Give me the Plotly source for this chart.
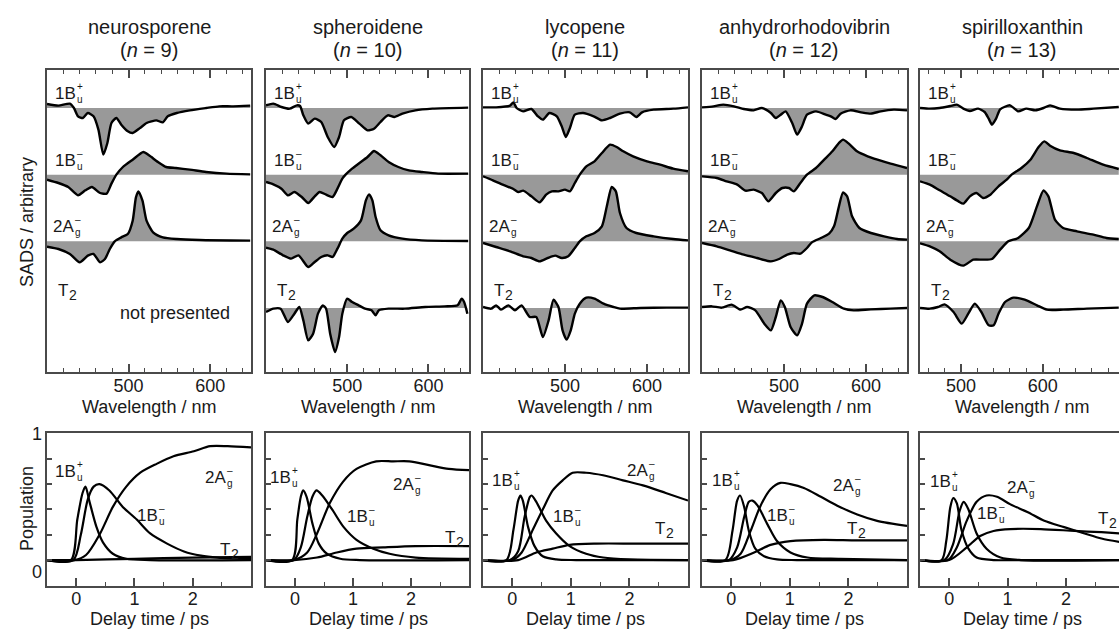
import plotly.graph_objects as go

W, H = 1119, 629
FONT = "Liberation Sans, Arial, sans-serif"
FRAME = "#4a4a4a"
FILL = "#999999"
TXT = "#1a1a1a"

# ---------------- data ----------------
MOLECULES = ["neurosporene", "spheroidene", "lycopene", "anhydrorhodovibrin", "spirilloxanthin"]
N_VALUES = [9, 10, 11, 12, 13]

# SADS (wavelength / nm, amplitude in arbitrary units)
neu_1Bp_wl = [400,414,428,433,438,444,450,457,463,469,474,479,485,491,499,505,514,522,528,534,542,548,559,575,595,611,628,649]
neu_1Bp = [0.06,0.035,0.065,0,-0.125,-0.15,-0.075,-0.125,-0.325,-0.7,-0.525,-0.225,-0.15,-0.25,-0.35,-0.375,-0.3,-0.225,-0.2,-0.185,-0.215,-0.125,-0.075,-0.035,0,0.025,0.025,0.035]
neu_1Bm_wl = [400,414,426,438,447,455,465,473,479,485,493,505,518,525,536,546,558,575,595,620,649]
neu_1Bm = [-0.075,-0.125,-0.185,-0.31,-0.235,-0.185,-0.275,-0.285,-0.135,0,0.115,0.225,0.34,0.29,0.19,0.115,0.1,0.075,0.04,0.015,0.005]
neu_2Ag_wl = [400,414,428,440,450,457,465,471,477,483,491,499,505,509,512,517,522,530,542,559,587,649]
neu_2Ag = [-0.08,-0.115,-0.19,-0.315,-0.215,-0.19,-0.315,-0.265,-0.115,0,0.06,0.11,0.31,0.66,0.75,0.61,0.31,0.135,0.06,0.035,0.02,0.01]

sph_1Bp_wl = [400,409,419,429,438,442,446,452,460,468,476,484,490,496,505,515,525,533,541,550,558,568,584,605,649]
sph_1Bp = [0.04,0.065,0.015,-0.01,0.04,0.03,-0.11,-0.235,-0.16,-0.21,-0.435,-0.585,-0.435,-0.185,-0.135,-0.235,-0.335,-0.31,-0.21,-0.11,-0.135,-0.085,-0.035,-0.01,0.005]
sph_1Bm_wl = [400,409,419,427,435,444,452,460,466,474,482,488,494,498,506,514,525,533,541,551,563,576,592,612,649]
sph_1Bm = [-0.11,-0.145,-0.21,-0.31,-0.26,-0.335,-0.425,-0.325,-0.26,-0.3,-0.335,-0.21,-0.06,0,0.09,0.165,0.265,0.355,0.29,0.19,0.115,0.065,0.04,0.015,0.015]
sph_2Ag_wl = [400,409,421,431,440,452,460,468,476,482,488,494,500,508,517,523,527,531,535,541,551,568,592,649]
sph_2Ag = [-0.095,-0.125,-0.21,-0.26,-0.21,-0.385,-0.31,-0.235,-0.21,-0.235,-0.11,0.04,0.125,0.19,0.315,0.615,0.705,0.615,0.365,0.165,0.09,0.04,0.015,0.005]
sph_T2_wl = [400,409,418,427,435,441,446,452,458,464,470,474,479,485,490,494,500,506,514,522,530,535,539,551,571,596,620,636,641,644,648]
sph_T2 = [-0.06,-0.01,-0.01,-0.21,-0.085,0.015,-0.185,-0.485,-0.385,-0.085,0.04,-0.01,-0.385,-0.66,-0.435,-0.085,0.14,0.09,0.04,-0.01,-0.035,-0.11,-0.035,-0.01,-0.01,0.015,0.025,0.04,0.14,0.09,-0.085]

lyc_1Bp_wl = [400,416,433,437,441,449,459,467,473,481,490,496,501,506,512,522,535,545,555,567,579,587,594,608,632,650]
lyc_1Bp = [0.01,0.01,0.035,0.085,0,-0.05,-0.015,-0.125,-0.175,-0.075,-0.125,-0.275,-0.435,-0.3,-0.1,-0.075,-0.125,-0.185,-0.15,-0.085,-0.065,-0.135,-0.065,-0.025,-0.01,0.01]
lyc_1Bm_wl = [400,412,424,437,443,449,459,469,477,484,492,500,506,512,518,526,536,545,555,563,571,583,600,616,632,650]
lyc_1Bm = [-0.025,-0.085,-0.15,-0.215,-0.26,-0.24,-0.325,-0.415,-0.3,-0.25,-0.25,-0.225,-0.25,-0.125,0,0.125,0.2,0.325,0.45,0.415,0.35,0.275,0.2,0.15,0.09,0.05]
lyc_2Ag_wl = [400,416,433,449,459,469,479,488,496,504,512,518,526,536,545,551,557,562,567,575,587,608,632,650]
lyc_2Ag = [-0.025,-0.085,-0.15,-0.225,-0.25,-0.3,-0.25,-0.215,-0.25,-0.225,-0.1,0,0.075,0.125,0.225,0.525,0.815,0.75,0.425,0.2,0.125,0.075,0.035,0.015]
lyc_T2_wl = [400,410,416,422,431,439,447,457,465,473,480,486,492,497,502,507,512,518,526,536,547,559,567,592,624,650]
lyc_T2 = [0.015,-0.01,0.04,-0.025,0.04,-0.035,0.04,-0.135,-0.135,-0.435,-0.185,0.125,0.015,-0.335,-0.475,-0.335,-0.085,0.065,0.155,0.14,0.065,0.015,-0.01,0,0.005,0.005]

anh_1Bp_wl = [400,414,426,439,451,463,473,484,490,496,502,510,516,522,528,539,551,557,563,569,581,594,606,618,634,650]
anh_1Bp = [0.01,0.025,0.05,0.025,-0.015,-0.035,0,-0.075,-0.15,-0.1,-0.05,-0.225,-0.4,-0.275,-0.1,-0.05,-0.1,-0.125,-0.165,-0.085,-0.035,-0.065,-0.085,-0.05,-0.025,-0.035]
anh_1Bm_wl = [400,418,430,443,453,463,473,481,490,498,506,512,520,528,539,549,559,567,572,579,589,602,614,630,650]
anh_1Bm = [-0.025,-0.05,-0.1,-0.15,-0.24,-0.225,-0.275,-0.4,-0.275,-0.2,-0.2,-0.25,-0.125,0,0.1,0.225,0.35,0.475,0.525,0.465,0.35,0.275,0.225,0.165,0.1]
anh_2Ag_wl = [400,418,434,451,467,484,494,504,512,520,528,534,545,555,561,567,572,577,583,592,606,622,638,650]
anh_2Ag = [-0.025,-0.075,-0.135,-0.2,-0.25,-0.3,-0.265,-0.2,-0.175,-0.185,-0.1,-0.015,0.05,0.115,0.225,0.525,0.735,0.675,0.375,0.2,0.125,0.075,0.035,0.025]
anh_T2_wl = [400,412,424,436,447,455,465,476,484,490,496,501,508,516,522,528,537,547,559,573,585,606,630,650]
anh_T2 = [0.015,0.025,0.005,0.05,-0.025,0.015,-0.035,-0.235,-0.335,-0.135,0.115,0.015,-0.285,-0.41,-0.235,0.065,0.19,0.165,0.09,-0.01,-0.035,-0.02,-0.01,0]

spi_1Bp_wl = [450,462,474,487,495,503,511,521,529,534,538,543,548,560,570,580,591,601,609,621,642,662,693]
spi_1Bp = [0,-0.01,0,0.03,0.05,-0.01,-0.045,-0.01,-0.06,-0.16,-0.25,-0.16,-0.02,0.04,-0.05,-0.01,-0.035,0,0.04,-0.01,-0.025,-0.01,0.015]
spi_1Bm_wl = [450,462,474,487,497,503,511,519,527,536,546,556,562,574,585,595,602,609,621,638,654,674,693]
spi_1Bm = [-0.1,-0.15,-0.235,-0.325,-0.4,-0.435,-0.325,-0.275,-0.35,-0.3,-0.175,-0.075,0,0.1,0.225,0.415,0.5,0.435,0.365,0.325,0.25,0.15,0.085]
spi_2Ag_wl = [450,462,474,487,503,515,527,538,548,558,570,583,593,601,607,615,625,642,662,678,693]
spi_2Ag = [-0.03,-0.075,-0.15,-0.275,-0.365,-0.275,-0.275,-0.265,-0.125,0,0.05,0.2,0.525,0.765,0.675,0.325,0.2,0.15,0.1,0.05,0.035]
spi_T2_wl = [450,462,472,480,491,501,509,517,525,534,540,546,554,564,578,593,605,625,654,693]
spi_T2 = [0,-0.01,0.015,0.055,-0.06,-0.235,-0.085,0.065,-0.06,-0.26,-0.26,-0.085,0.09,0.155,0.125,0.04,-0.025,-0.025,-0.01,0.005]

# Populations (delay time / ps, population)
neu_t_1Bp = [-0.5,-0.09,0.02,0.11,0.16,0.23,0.35,0.46,0.63,0.86,1.27,3.0]
neu_p_1Bp = [0,0,0.32,0.53,0.58,0.46,0.26,0.14,0.05,0.01,0,0]
neu_t_1Bm = [-0.5,-0.05,0.08,0.2,0.3,0.4,0.57,0.8,1.04,1.27,1.56,1.85,2.14,2.43,3.0]
neu_p_1Bm = [0,0,0.2,0.48,0.58,0.6,0.55,0.42,0.32,0.21,0.13,0.068,0.035,0.02,0.01]
neu_t_2Ag = [-0.5,-0.03,0.17,0.4,0.63,0.86,1.1,1.38,1.67,2.02,2.3,2.6,3.0]
neu_p_2Ag = [0,0,0.04,0.2,0.42,0.58,0.69,0.76,0.82,0.86,0.9,0.9,0.89]
neu_t_T2 = [-0.5,0,1.0,2.0,3.0]
neu_p_T2 = [0,0,0.01,0.02,0.025]

sph_t_1Bp = [-0.5,-0.05,0.04,0.1,0.14,0.2,0.3,0.41,0.55,0.78,1.12,3.0]
sph_p_1Bp = [0,0,0.32,0.5,0.55,0.5,0.29,0.13,0.05,0.01,0,0]
sph_t_1Bm = [-0.5,-0.02,0.1,0.21,0.3,0.37,0.47,0.64,0.84,1.06,1.35,1.63,2.08,3.0]
sph_p_1Bm = [0,0,0.1,0.34,0.5,0.55,0.51,0.4,0.26,0.16,0.09,0.05,0.02,0.01]
sph_t_2Ag = [-0.5,-0.02,0.21,0.38,0.6,0.83,1.06,1.4,1.69,1.97,2.31,2.65,3.0]
sph_p_2Ag = [0,0,0.06,0.21,0.45,0.62,0.72,0.78,0.78,0.78,0.75,0.72,0.71]
sph_t_T2 = [-0.5,-0.02,0.38,0.72,1.06,1.52,2.08,3.0]
sph_p_T2 = [0,0,0.02,0.06,0.09,0.1,0.11,0.11]

lyc_t_1Bp = [-0.5,-0.1,0.02,0.1,0.14,0.18,0.27,0.38,0.52,0.75,1.09,3.0]
lyc_p_1Bp = [0,0,0.24,0.47,0.51,0.47,0.26,0.11,0.03,0.005,0,0]
lyc_t_1Bm = [-0.5,-0.04,0.1,0.21,0.3,0.33,0.41,0.58,0.75,0.98,1.26,1.55,2.0,3.0]
lyc_p_1Bm = [0,0,0.07,0.34,0.5,0.51,0.46,0.31,0.21,0.11,0.05,0.02,0.005,0]
lyc_t_2Ag = [-0.5,0.0,0.16,0.35,0.52,0.69,0.86,1.03,1.26,1.55,1.89,2.23,2.62,3.0]
lyc_p_2Ag = [0,0,0.06,0.24,0.4,0.55,0.63,0.69,0.69,0.67,0.63,0.59,0.53,0.47]
lyc_t_T2 = [-0.5,0.1,0.41,0.69,0.98,1.43,2.11,3.0]
lyc_p_T2 = [0,0,0.06,0.09,0.12,0.13,0.13,0.13]

anh_t_1Bp = [-0.5,-0.1,0.02,0.1,0.15,0.22,0.3,0.41,0.56,0.78,1.12,3.0]
anh_p_1Bp = [0,0,0.23,0.47,0.51,0.42,0.23,0.09,0.03,0.005,0,0]
anh_t_1Bm = [-0.5,-0.04,0.1,0.22,0.3,0.36,0.45,0.62,0.78,1.01,1.3,1.86,3.0]
anh_p_1Bm = [0,0,0.1,0.34,0.46,0.47,0.43,0.28,0.15,0.06,0.02,0.01,0]
anh_t_2Ag = [-0.5,-0.02,0.16,0.33,0.5,0.67,0.84,1.01,1.24,1.53,1.81,2.15,2.49,3.0]
anh_p_2Ag = [0,0,0.05,0.23,0.43,0.56,0.61,0.6,0.57,0.5,0.43,0.36,0.31,0.27]
anh_t_T2 = [-0.5,0.03,0.39,0.67,1.01,1.58,2.15,3.0]
anh_p_T2 = [0,0,0.06,0.12,0.15,0.16,0.155,0.155]

spi_t_1Bp = [-0.5,-0.13,-0.05,0.02,0.07,0.13,0.21,0.33,0.47,0.76,1.16,2.95]
spi_p_1Bp = [0,0,0.15,0.42,0.49,0.45,0.24,0.09,0.02,0,0,0]
spi_t_1Bm = [-0.5,-0.08,0.07,0.18,0.25,0.33,0.47,0.64,0.88,1.23,2.95]
spi_p_1Bm = [0,0,0.13,0.39,0.46,0.4,0.21,0.09,0.02,0,0]
spi_t_2Ag = [-0.5,-0.02,0.13,0.3,0.47,0.64,0.82,1.05,1.34,1.63,1.97,2.32,2.61,2.95]
spi_p_2Ag = [0,0,0.1,0.31,0.46,0.51,0.5,0.44,0.38,0.31,0.26,0.21,0.17,0.14]
spi_t_T2 = [-0.5,0.0,0.3,0.53,0.76,1.05,1.57,2.15,2.61,2.95]
spi_p_T2 = [0,0,0.1,0.19,0.23,0.245,0.245,0.23,0.22,0.21]

STATES = ["1B+", "1B-", "2A-", "T2"]
SADS = [
    [(neu_1Bp_wl, neu_1Bp), (neu_1Bm_wl, neu_1Bm), (neu_2Ag_wl, neu_2Ag), None],
    [(sph_1Bp_wl, sph_1Bp), (sph_1Bm_wl, sph_1Bm), (sph_2Ag_wl, sph_2Ag), (sph_T2_wl, sph_T2)],
    [(lyc_1Bp_wl, lyc_1Bp), (lyc_1Bm_wl, lyc_1Bm), (lyc_2Ag_wl, lyc_2Ag), (lyc_T2_wl, lyc_T2)],
    [(anh_1Bp_wl, anh_1Bp), (anh_1Bm_wl, anh_1Bm), (anh_2Ag_wl, anh_2Ag), (anh_T2_wl, anh_T2)],
    [(spi_1Bp_wl, spi_1Bp), (spi_1Bm_wl, spi_1Bm), (spi_2Ag_wl, spi_2Ag), (spi_T2_wl, spi_T2)],
]
POPS = [
    [(neu_t_1Bp, neu_p_1Bp), (neu_t_1Bm, neu_p_1Bm), (neu_t_2Ag, neu_p_2Ag), (neu_t_T2, neu_p_T2)],
    [(sph_t_1Bp, sph_p_1Bp), (sph_t_1Bm, sph_p_1Bm), (sph_t_2Ag, sph_p_2Ag), (sph_t_T2, sph_p_T2)],
    [(lyc_t_1Bp, lyc_p_1Bp), (lyc_t_1Bm, lyc_p_1Bm), (lyc_t_2Ag, lyc_p_2Ag), (lyc_t_T2, lyc_p_T2)],
    [(anh_t_1Bp, anh_p_1Bp), (anh_t_1Bm, anh_p_1Bm), (anh_t_2Ag, anh_p_2Ag), (anh_t_T2, anh_p_T2)],
    [(spi_t_1Bp, spi_p_1Bp), (spi_t_1Bm, spi_p_1Bm), (spi_t_2Ag, spi_p_2Ag), (spi_t_T2, spi_p_T2)],
]

WL_TICKS = [500, 600]
T_TICKS = [0, 1, 2]
T_TICKTEXT = ["0", "1", "2"]

# ---------------- layout geometry (pixels) ----------------
COL_L = [47, 266, 483, 702, 920]
COL_R = [251, 469, 688, 907, 1119]
PANEL_W = 204
TOP_PX = (70, 372)
BOT_PX = (433, 586)
WL_RANGE = [(400, 650), (400, 650), (400, 650), (400, 650), (450, 693.3)]
T_RANGE = [(-0.5, 3.0)] * 4 + [(-0.5, 2.91)]
OFFSETS = [3, 2, 1, 0]
SADS_YRANGE = [-0.96, 3.57]
POP_YRANGE = [-0.205, 1.004]

# population label pixel positions per column: (state, x_left_px, y_center_px)
POP_LABELS = [
    [("1B+", 54, 471), ("2A-", 204, 477), ("1B-", 136, 515), ("T2", 219, 549)],
    [("1B+", 269, 477), ("2A-", 392, 484), ("1B-", 346, 516), ("T2", 444, 537)],
    [("1B+", 491, 480), ("2A-", 626, 470), ("1B-", 552, 516), ("T2", 654, 528)],
    [("1B+", 711, 480), ("2A-", 832, 485), ("1B-", 766, 515), ("T2", 846, 528)],
    [("1B+", 929, 482), ("2A-", 1006, 487), ("1B-", 976, 513), ("T2", 1097, 518)],
]

LABEL_SIZE = 17


def px(x):
    return x / W


def py(y):
    return 1 - y / H


fig = go.Figure()
annotations = []


def state_label(kind, x, y, xref, yref, size=LABEL_SIZE, xshift=0):
    main = {"1B+": "1B", "1B-": "1B", "2A-": "2A", "T2": "T"}[kind]
    base = dict(x=x, y=y, xref=xref, yref=yref, xanchor="left", yanchor="middle",
                showarrow=False, borderpad=0)
    annotations.append(dict(base, text=main, xshift=xshift,
                            font=dict(family=FONT, size=size, color=TXT)))
    if kind == "T2":
        w = 0.611 * size
        annotations.append(dict(base, text="2", xshift=xshift + w + 1, yshift=-0.32 * size,
                                font=dict(family=FONT, size=round(size * 0.8), color=TXT)))
    else:
        w = 1.223 * size
        sup = "+" if kind == "1B+" else "\u2013"
        sub = "u" if kind.startswith("1B") else "g"
        # superscript and subscript stacked in one text block
        annotations.append(dict(base, text=f"{sup}<br>{sub}", align="left",
                                xshift=xshift + w + 1.5, yshift=0.5,
                                font=dict(family=FONT, size=10, color=TXT)))


layout_axes = {}
for i in range(5):
    top = i + 1
    bot = i + 6
    xd = [px(COL_L[i]), min(1.0, px(COL_R[i]))]
    tx, ty = f"x{top}", f"y{top}"
    bx, by = f"x{bot}", f"y{bot}"
    last = i == 4

    # ---- SADS ----
    for j, st in enumerate(STATES):
        spec = SADS[i][j]
        if spec is None:
            continue
        wl, vals = spec
        off = OFFSETS[j]
        fig.add_trace(go.Scatter(x=wl, y=[off] * len(wl), xaxis=tx, yaxis=ty, mode="lines",
                                 line=dict(width=0, color=FILL), hoverinfo="skip", showlegend=False))
        fig.add_trace(go.Scatter(x=wl, y=[v + off for v in vals], xaxis=tx, yaxis=ty, mode="lines",
                                 fill="tonexty", fillcolor=FILL,
                                 line=dict(color="black", width=2.4, shape="spline", smoothing=0.6),
                                 hoverinfo="skip", showlegend=False))
    # ---- populations ----
    for j, st in enumerate(STATES):
        t, p = POPS[i][j]
        fig.add_trace(go.Scatter(x=t, y=p, xaxis=bx, yaxis=by, mode="lines",
                                 line=dict(color="black", width=2.2, shape="spline", smoothing=0.8),
                                 hoverinfo="skip", showlegend=False))

    minor_wl = [w for w in range(400, 720, 20) if w not in WL_TICKS]
    common = dict(showgrid=False, zeroline=False, showline=True, linecolor=FRAME, linewidth=1.5,
                  tickcolor=FRAME, tickwidth=1.5,
                  tickfont=dict(family=FONT, size=18, color=TXT))
    layout_axes[f"xaxis{top}"] = dict(common, domain=xd, anchor=ty, range=list(WL_RANGE[i]),
                                      tickmode="array", tickvals=WL_TICKS, ticks="inside", ticklen=8,
                                      mirror="ticks", ticklabelstandoff=-3,
                                      minor=dict(tickmode="array", tickvals=minor_wl, ticks="inside",
                                                 ticklen=4, tickcolor=FRAME, tickwidth=1.2))
    layout_axes[f"yaxis{top}"] = dict(common, domain=[py(TOP_PX[1]), py(TOP_PX[0])], anchor=tx,
                                      range=SADS_YRANGE, showticklabels=False, ticks="",
                                      mirror=(not last))
    layout_axes[f"xaxis{bot}"] = dict(common, domain=xd, anchor=by, range=list(T_RANGE[i]),
                                      tickmode="array", tickvals=T_TICKS, ticktext=T_TICKTEXT,
                                      ticks="inside", ticklen=8, mirror=True, ticklabelstandoff=-4,
                                      minor=dict(tickmode="array", tickvals=[0.5, 1.5, 2.5],
                                                 ticks="inside", ticklen=4, tickcolor=FRAME, tickwidth=1.2))
    layout_axes[f"yaxis{bot}"] = dict(common, domain=[py(BOT_PX[1]), py(BOT_PX[0])], anchor=bx,
                                      range=POP_YRANGE, tickmode="array",
                                      tickvals=[0, 0.2, 0.4, 0.6, 0.8], ticks="inside", ticklen=5,
                                      showticklabels=False, mirror=(not last))

    # titles
    cx = px(COL_L[i] + PANEL_W / 2)
    annotations.append(dict(x=cx, y=py(27), xref="paper", yref="paper", text=MOLECULES[i],
                            showarrow=False, xanchor="center", yanchor="middle",
                            font=dict(family=FONT, size=20, color=TXT)))
    annotations.append(dict(x=cx, y=py(50), xref="paper", yref="paper",
                            text=f"(<i>n</i> = {N_VALUES[i]})",
                            showarrow=False, xanchor="center", yanchor="middle",
                            font=dict(family=FONT, size=20, color=TXT)))
    # axis titles
    annotations.append(dict(x=cx, y=py(407), xref="paper", yref="paper", text="Wavelength / nm",
                            showarrow=False, xanchor="center", yanchor="middle",
                            font=dict(family=FONT, size=18, color=TXT)))
    annotations.append(dict(x=cx, y=py(619), xref="paper", yref="paper", text="Delay time / ps",
                            showarrow=False, xanchor="center", yanchor="middle",
                            font=dict(family=FONT, size=18, color=TXT)))

    # SADS state labels
    for j, st in enumerate(STATES):
        dy = 0.27 if st == "T2" else 0.22
        xs = 10 if st == "T2" else (5 if st == "2A-" else 7)
        state_label(st, px(COL_L[i]), OFFSETS[j] + dy, "paper", ty, xshift=xs)
    # population state labels
    for st, lx, ly in POP_LABELS[i]:
        state_label(st, px(lx), py(ly), "paper", "paper")

# not presented
annotations.append(dict(x=px(175), y=0, xref="paper", yref="y1", yshift=-5, text="not presented",
                        showarrow=False, xanchor="center", yanchor="middle",
                        font=dict(family=FONT, size=18, color=TXT)))
# y-axis titles
annotations.append(dict(x=px(27), y=py(222), xref="paper", yref="paper", text="SADS / arbitrary",
                        textangle=-90, showarrow=False, xanchor="center", yanchor="middle",
                        font=dict(family=FONT, size=18, color=TXT)))
annotations.append(dict(x=px(27), y=py(509), xref="paper", yref="paper", text="Population",
                        textangle=-90, showarrow=False, xanchor="center", yanchor="middle",
                        font=dict(family=FONT, size=18, color=TXT)))
# population tick labels (first column only)
annotations.append(dict(x=px(44), y=1, xref="paper", yref="y6", text="1", showarrow=False,
                        xanchor="right", yanchor="middle", font=dict(family=FONT, size=18, color=TXT)))
annotations.append(dict(x=px(44), y=0, xref="paper", yref="y6", yshift=-12, text="0", showarrow=False,
                        xanchor="right", yanchor="middle", font=dict(family=FONT, size=18, color=TXT)))

fig.update_layout(width=W, height=H, margin=dict(l=0, r=0, t=0, b=0),
                  paper_bgcolor="white", plot_bgcolor="white", showlegend=False,
                  annotations=annotations, **layout_axes)

fig.write_html("out.html", config={"displayModeBar": False},
               post_script="document.body.style.margin='0';document.body.style.padding='0';")
